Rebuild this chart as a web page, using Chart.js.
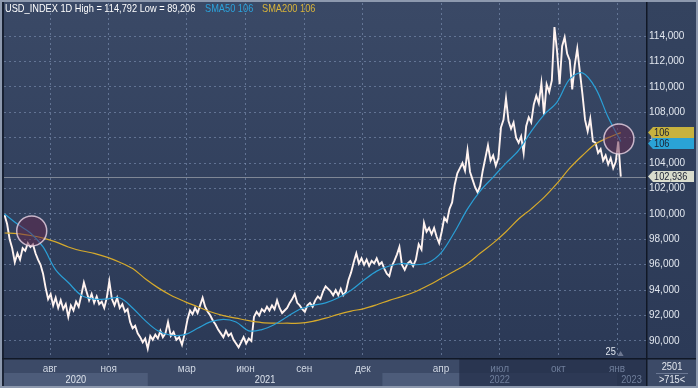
<!DOCTYPE html>
<html><head><meta charset="utf-8">
<script src="https://cdn.jsdelivr.net/npm/chart.js@4"></script>
<style>html,body{margin:0;padding:0;background:#2c3a57;overflow:hidden}#wrap{width:698px;height:388px;position:relative}</style>
</head><body><div id="wrap"><canvas id="c" width="698" height="388"></canvas></div>
<script>
// ---------- DATA ----------
const instrument = 'USD_INDEX 1D';
const highValue = '114,792';
const lowValue = '89,206';
const startDate = '2020-05-22';   // first sample
const stepDays = 4;               // sampling step of the price series
const usdIndex = [
 99.9, 99.2, 98.0, 97.3, 96.2, 96.9, 96.4, 97.3, 97.1, 97.7,
 97.4, 97.6, 96.9, 96.4, 96.0, 95.3, 94.2, 93.3, 93.7, 92.8,
 93.4, 92.6, 93.2, 92.5, 92.9, 91.9, 92.8, 92.4, 93.1, 92.7,
 93.6, 94.6, 93.9, 93.2, 93.7, 93.0, 93.5, 92.9, 93.1, 92.6,
 93.4, 94.7, 93.3, 92.8, 93.4, 92.6, 92.9, 92.3, 92.5, 91.5,
 91.0, 91.2, 90.6, 90.3, 89.9, 90.2, 89.4, 90.4, 90.1, 90.5,
 90.2, 90.8, 90.3, 90.6, 91.5, 90.4, 90.7, 90.1, 90.3, 89.7,
 90.6, 91.7, 92.4, 92.1, 92.6, 92.2, 92.8, 93.4, 92.7, 92.3,
 92.0, 91.6, 91.3, 90.9, 90.6, 90.3, 90.8, 90.4, 90.6, 90.1,
 89.8, 89.5, 89.9, 90.3, 89.8, 90.2, 90.0, 91.9, 92.3, 92.0,
 92.5, 92.3, 92.7, 92.4, 92.8, 92.5, 93.2, 92.6, 92.2, 92.4,
 92.6, 93.0, 93.3, 93.7, 93.0, 92.8, 92.5, 92.3, 92.8, 93.0,
 92.7, 93.2, 93.5, 93.3, 93.9, 94.3, 94.1, 93.9, 93.6, 94.0,
 93.6, 94.1, 93.6, 93.9, 94.8, 95.4, 96.2, 96.9, 96.1, 96.5,
 96.0, 96.4, 95.9, 96.3, 96.1, 96.5, 96.0, 96.2, 95.7, 95.3,
 95.1, 95.9, 96.3, 96.8, 97.4, 96.0, 95.6, 96.1, 96.3, 95.9,
 96.4, 97.6, 97.2, 99.3, 98.6, 98.9, 98.4, 98.9, 98.2, 97.7,
 98.6, 99.7, 99.4, 100.4, 100.9, 102.3, 103.2, 103.6, 104.0, 103.4,
 105.0, 103.3, 102.7, 102.1, 101.7, 102.2, 103.4, 104.4, 105.4, 104.2,
 104.6, 103.8, 104.4, 106.8, 107.4, 109.1, 107.3, 106.7, 107.2, 106.0,
 105.6, 106.1, 104.8, 106.9, 107.6, 107.2, 108.6, 109.3, 108.7, 110.3,
 107.8, 110.2, 109.6, 110.5, 114.7, 112.8, 110.2, 113.2, 113.9, 112.6,
 112.1, 109.8, 111.7, 113.0, 111.2, 109.4, 107.4, 106.5, 107.5, 105.7,
 105.6, 104.8, 105.1, 104.2, 104.6, 103.9, 104.4, 103.6, 104.1, 105.7,
 102.936
];
const smaStepDays = 20;           // sampling step of the moving averages
const sma50 = [
 100.0, 99.2, 98.5, 97.4, 95.6, 94.6, 93.6, 93.3, 93.3, 93.4,
 92.6, 91.6, 90.8, 90.45, 90.5, 91.0, 91.5, 91.7, 91.5, 90.8,
 90.9, 91.3, 91.9, 92.5, 92.8, 93.0, 93.4, 94.0, 94.8, 95.5,
 95.9, 96.1, 96.0, 96.2, 97.0, 98.6, 100.4, 101.8, 102.9, 104.0,
 105.0, 106.5, 107.8, 108.8, 110.6, 111.1, 109.9, 107.6, 105.7
];
const sma200 = [
 98.5, 98.45, 98.3, 98.1, 97.8, 97.4, 97.1, 96.9, 96.6, 96.2,
 95.7, 94.9, 94.2, 93.6, 93.1, 92.7, 92.3, 92.0, 91.8, 91.6,
 91.45, 91.4, 91.4, 91.4, 91.55, 91.8, 92.1, 92.35, 92.55, 92.85,
 93.2, 93.5, 93.9, 94.4, 94.95, 95.5, 96.1, 96.9, 97.7, 98.6,
 99.6, 100.4, 101.3, 102.4, 103.6, 104.6, 105.5, 106.0, 106.4
];
const lastClose = 102.936;
const monthTickDates = ['2020-08-01','2020-11-01','2021-03-01','2021-06-01','2021-09-01','2021-12-01','2022-04-01','2022-07-01','2022-10-01','2023-01-01'];
const monthTickLabels = ['авг','ноя','мар','июн','сен','дек','апр','июл','окт','янв'];
const yearLabels = ['2020','2021','2022','2023'];
const yTicks = [90,92,94,96,98,100,102,104,106,108,110,112,114];
const markerDates = ['2020-07-03','2023-01-04'];
const markerValues = [98.66, 105.9];
const shadedFrom = '2022-04-29';
const barCountTop = '2501';
const barCountBottom = '>715<';
const dayMarker = '25';
const dayMarkerDate = '2022-12-25';

// ---------- helpers ----------
function toM(s){
  const [y,mo,d] = s.split('-').map(Number);
  const dim = new Date(Date.UTC(y,mo,0)).getUTCDate();
  return (y-2020)*12 + (mo-1) + (d-1)/dim;
}
const startMs = Date.parse(startDate+'T00:00:00Z');
function dateAt(stepIdx, step){
  return new Date(startMs + stepIdx*step*86400000).toISOString().slice(0,10);
}
const pricePts = usdIndex.map((v,i)=>({x:toM(dateAt(i,stepDays)), y:v}));
const sma50Pts = sma50.map((v,i)=>({x:toM(dateAt(i,smaStepDays)), y:v}));
const sma200Pts = sma200.map((v,i)=>({x:toM(dateAt(i,smaStepDays)), y:v}));
const markerPts = markerDates.map((d,i)=>({x:toM(d), y:markerValues[i]}));
const fmt = v => v.toFixed(3).replace('.',',');
const shadeM = toM(shadedFrom);
const FONT = '"Liberation Sans",Arial,sans-serif';
const SX = 0.84; // horizontal condensing of hand-drawn labels

function narrowText(ctx, txt, x, y, align){
  ctx.save();
  ctx.translate(x, y);
  ctx.scale(SX, 1);
  ctx.textAlign = align || 'left';
  ctx.fillText(txt, 0, 0);
  ctx.restore();
}

const chromePlugin = {
  id:'chrome',
  beforeDraw(chart){
    const {ctx, chartArea:a, scales:{x}} = chart;
    const W = chart.width, H = chart.height;
    ctx.save();
    ctx.fillStyle = '#2d3b58'; ctx.fillRect(0,0,W,H);
    const g = ctx.createLinearGradient(0,a.top,0,a.bottom);
    g.addColorStop(0,'#3a4966'); g.addColorStop(1,'#2b3956');
    ctx.fillStyle = g; ctx.fillRect(a.left,0,a.right-a.left,a.bottom);
    const g2 = ctx.createLinearGradient(0,0,0,a.bottom);
    g2.addColorStop(0,'#34435f'); g2.addColorStop(1,'#2c3a57');
    ctx.fillStyle = g2; ctx.fillRect(a.right,0,W-a.right,a.bottom);
    ctx.fillStyle = '#3c4a67'; ctx.fillRect(0,a.bottom,W,H-a.bottom);
    const row2 = a.bottom + 15;
    const bands = [[x.min, 12],[24, 36]];
    ctx.fillStyle = '#4d5c7a';
    bands.forEach(([s,e])=>{
      const px0 = Math.max(a.left, x.getPixelForValue(s));
      const px1 = Math.min(a.right, x.getPixelForValue(e));
      ctx.fillRect(px0,row2,px1-px0,H-row2);
    });
    const sx = x.getPixelForValue(shadeM);
    ctx.fillStyle = 'rgba(36,48,74,0.78)';
    ctx.fillRect(sx,a.bottom,a.right-sx,H-a.bottom);
    ctx.restore();
  },
  beforeDatasetsDraw(chart){
    const {ctx, chartArea:a, scales:{y}} = chart;
    const py = Math.round(y.getPixelForValue(lastClose))+0.5;
    ctx.save();
    ctx.strokeStyle = '#7f8796'; ctx.lineWidth = 1;
    ctx.beginPath(); ctx.moveTo(a.left,py); ctx.lineTo(a.right,py); ctx.stroke();
    ctx.restore();
  },
  afterDraw(chart){
    const {ctx, chartArea:a, scales:{x,y}} = chart;
    const W = chart.width, H = chart.height;
    ctx.save();
    ctx.font = '11px '+FONT; ctx.textBaseline = 'middle';
    ctx.fillStyle = '#ffffff';
    narrowText(ctx, instrument+' High = '+highValue+' Low = '+lowValue, 5, 9);
    ctx.fillStyle = '#2ba3dc';
    narrowText(ctx, 'SMA50 '+Math.round(sma50[sma50.length-1]), 205, 9);
    ctx.fillStyle = '#d9b43a';
    narrowText(ctx, 'SMA200 '+Math.round(sma200[sma200.length-1]), 262, 9);
    // price tags (stacked so they do not overlap)
    let prevBottom = -Infinity;
    const tag = (val, txt, bg, fg) => {
      const h = 11;
      let cy = y.getPixelForValue(val);
      if (cy - h/2 < prevBottom) cy = prevBottom + h/2;
      prevBottom = cy + h/2;
      const x0 = a.right+2, x1 = x0+46;
      ctx.fillStyle = bg;
      ctx.beginPath();
      ctx.moveTo(x0, cy); ctx.lineTo(x0+5, cy-h/2); ctx.lineTo(x1, cy-h/2);
      ctx.lineTo(x1, cy+h/2); ctx.lineTo(x0+5, cy+h/2); ctx.closePath(); ctx.fill();
      ctx.fillStyle = fg;
      narrowText(ctx, txt, x0+6, cy+0.5);
    };
    tag(sma200[sma200.length-1], String(Math.round(sma200[sma200.length-1])), '#c7b23e', '#1b2133');
    tag(sma50[sma50.length-1], String(Math.round(sma50[sma50.length-1])), '#2aa3d6', '#1b2133');
    tag(lastClose, fmt(lastClose), '#d9dccd', '#1b2133');
    // year labels
    const row2c = a.bottom + 22;
    yearLabels.forEach((lab,i)=>{
      const s = Math.max(a.left, x.getPixelForValue(i*12));
      const e = Math.min(a.right, x.getPixelForValue((i+1)*12));
      const dim = (s + e)/2 > x.getPixelForValue(shadeM);
      ctx.fillStyle = dim ? '#6f7e9b' : '#dde3ec';
      const w = ctx.measureText(lab).width*SX;
      if (e - s < w + 8) narrowText(ctx, lab, e-4, row2c, 'right');
      else narrowText(ctx, lab, (s+e)/2, row2c, 'center');
    });
    // day marker
    ctx.fillStyle='#dfe5ee';
    const dmx = x.getPixelForValue(toM(dayMarkerDate));
    narrowText(ctx, dayMarker, dmx-7, a.bottom-6);
    ctx.fillStyle='#6d7891';
    ctx.beginPath(); ctx.moveTo(dmx+5,a.bottom-2); ctx.lineTo(dmx+8,a.bottom-7); ctx.lineTo(dmx+11,a.bottom-2); ctx.closePath(); ctx.fill();
    // bottom-right box
    ctx.fillStyle='#e4e8f0';
    const cx = (a.right+W)/2;
    narrowText(ctx, barCountTop, cx, a.bottom+9, 'center');
    narrowText(ctx, barCountBottom, cx, a.bottom+22, 'center');
    ctx.strokeStyle='#6b7894'; ctx.lineWidth=1;
    ctx.beginPath(); ctx.moveTo(cx-16,a.bottom+15.5); ctx.lineTo(cx+16,a.bottom+15.5); ctx.stroke();
    // frame lines
    ctx.strokeStyle='#111826'; ctx.lineWidth=1.5;
    ctx.beginPath(); ctx.moveTo(a.right+0.75,0); ctx.lineTo(a.right+0.75,H); ctx.stroke();
    ctx.beginPath(); ctx.moveTo(0,a.bottom+0.75); ctx.lineTo(W,a.bottom+0.75); ctx.stroke();
    ctx.beginPath(); ctx.moveTo(a.left-1,0); ctx.lineTo(a.left-1,H); ctx.stroke();
    ctx.strokeStyle='#8d99ae'; ctx.lineWidth=2;
    ctx.strokeRect(1,1,W-2,H-2);
    ctx.restore();
  }
};

new Chart(document.getElementById('c'), {
  type:'line',
  data:{ datasets:[
    { label:'markers', data:markerPts, showLine:false, order:0,
      pointRadius:15, pointHoverRadius:15, pointStyle:'circle',
      pointBackgroundColor:'rgba(100,40,75,0.5)', pointBorderColor:'rgba(225,205,222,0.85)', pointBorderWidth:1.5 },
    { label:'SMA50', data:sma50Pts, order:1, borderColor:'#2a9fd6', borderWidth:1.2, pointRadius:0, tension:0.35, fill:false },
    { label:'SMA200', data:sma200Pts, order:2, borderColor:'#d6aa2c', borderWidth:1.2, pointRadius:0, tension:0.35, fill:false },
    { label:'USD_INDEX', data:pricePts, order:3, borderColor:'#fff3f0', borderWidth:1.9, pointRadius:0, tension:0, fill:false }
  ]},
  options:{
    responsive:false, animation:false, events:[],
    layout:{ autoPadding:false, padding:{ left:4, top:3, right:0, bottom:0 } },
    plugins:{ legend:{display:false}, tooltip:{enabled:false} },
    scales:{
      x:{ type:'linear', position:'bottom', min:4.647, max:37.483,
        afterBuildTicks(s){ s.ticks = monthTickDates.map(d=>({value:toM(d)})); },
        afterFit(s){ s.height = 30; s.paddingLeft = 0; s.paddingRight = 0; },
        grid:{ color:'rgba(135,155,190,0.55)', drawTicks:false, lineWidth:1 },
        border:{ display:false, dash:[2,3] },
        ticks:{ autoSkip:false, maxRotation:0, padding:5,
          font:{ size:10, family:FONT },
          color:(c)=> (c.tick && c.tick.value > shadeM) ? '#6f7e9b' : '#cfd6e2',
          callback:(v,i)=> monthTickLabels[i] }
      },
      y:{ position:'right', min:88.662, max:116.597,
        afterBuildTicks(s){ s.ticks = yTicks.map(v=>({value:v})); },
        afterFit(s){ s.width = 52; s.paddingTop = 0; s.paddingBottom = 0; },
        grid:{ color:'rgba(135,155,190,0.55)', drawTicks:false, lineWidth:1 },
        border:{ display:false, dash:[2,3] },
        ticks:{ padding:3, font:{ size:10, family:FONT }, color:'#e2e7ef',
          callback:(v)=> fmt(v) }
      }
    }
  },
  plugins:[chromePlugin]
});
</script></body></html>
